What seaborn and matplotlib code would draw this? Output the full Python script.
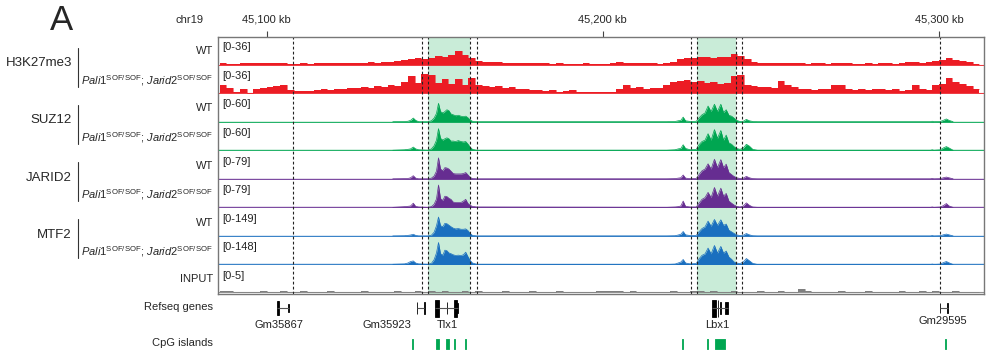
import numpy as np
import pandas as pd
import matplotlib
matplotlib.use("Agg")
import matplotlib.pyplot as plt
import seaborn as sns

sns.set_style("white")
plt.rcParams["font.family"] = ["Liberation Sans", "DejaVu Sans"]
plt.rcParams["mathtext.fontset"] = "custom"
plt.rcParams["mathtext.rm"] = "Liberation Sans"
plt.rcParams["mathtext.it"] = "Liberation Sans:italic"

# ---- genomic window (kb on chr19) ----
x_start, x_end = 45085.5, 45313.4
tick_kb = [45100, 45200, 45300]
tick_labels = ["45,100 kb", "45,200 kb", "45,300 kb"]

# 2 kb bins for the histone mark and input coverage
bin_left = np.arange(45086, 45312, 2)

h3_wt = [1.5, 1.0, 1.2, 2.0, 1.5, 1.8, 2.2, 1.5, 2.0, 2.5,
         1.2, 1.0, 1.5, 1.2, 1.8, 1.5, 2.0, 1.5, 1.8, 2.2,
         2.0, 2.5, 2.8, 2.5, 3.0, 3.5, 4.5, 6.0, 7.5, 8.0,
         7.0, 9.0, 11.0, 10.5, 12.0, 18.0, 12.0, 9.0, 5.0, 4.0,
         3.0, 3.0, 2.5, 2.5, 2.0, 2.0, 1.8, 1.5, 1.5, 1.2,
         1.5, 1.2, 1.0, 1.2, 1.5, 1.0, 1.2, 1.0, 1.5, 4.0,
         2.5, 1.5, 2.0, 1.5, 1.5, 1.2, 1.5, 3.0, 7.0, 8.5,
         8.0, 9.5, 10.0, 9.0, 10.0, 9.5, 14.0, 11.0, 7.0, 4.0,
         2.5, 2.0, 1.8, 2.0, 1.5, 1.5, 1.8, 1.2, 1.5, 1.5,
         1.2, 1.5, 1.8, 1.5, 1.2, 1.0, 1.5, 1.2, 1.5, 1.8,
         1.2, 2.0, 4.0, 3.0, 1.5, 3.5, 5.0, 6.0, 8.0, 6.5,
         5.0, 3.0, 1.0]
h3_mut = [10, 7, 2, 5, 0.5, 6, 7, 8, 9, 11,
          4, 3, 2.5, 3, 3.5, 5, 4.5, 6, 5.5, 7,
          6.5, 8, 7, 9, 8, 10, 9, 14, 22, 13,
          25, 24, 13, 19, 12, 18, 11, 20, 11, 9,
          8, 9, 7, 8, 6, 5, 4, 4.5, 3, 3.5,
          1.5, 3, 3.5, 2, 1, 2, 1.5, 1, 1.5, 6,
          11, 7, 7.5, 6, 7, 6.5, 10, 15, 16, 17,
          15, 16, 13, 14, 12, 13, 22, 24, 10, 9,
          8, 8.5, 7, 16, 10, 8, 5, 6, 4, 6,
          5, 10, 11, 5, 4, 5, 4, 6, 5, 4,
          5, 3, 4, 11, 6, 4, 11, 12, 20, 14,
          12, 9, 6]
input_cov = [0.2, 0.25, 0.1, 0.15, 0.1, 0.15, 0.2, 0.15, 0.1, 0.2, 0.15,
             0.15, 0.2, 0.15, 0.1, 0.15, 0.2, 0.1, 0.15, 0.1, 0.15, 0.2,
             0.15, 0.1, 0.15, 0.15, 0.2, 0.15, 0.1, 0.2, 0.15, 0.2, 0.15,
             0.2, 0.15, 0.15, 0.2, 0.15, 0.25, 0.15, 0.1, 0.15, 0.2, 0.15,
             0.1, 0.15, 0.2, 0.15, 0.15, 0.1, 0.2, 0.15, 0.15, 0.1, 0.15,
             0.15, 0.2, 0.25, 0.2, 0.2, 0.15, 0.2, 0.15, 0.1, 0.15, 0.15,
             0.15, 0.2, 0.15, 0.15, 0.2, 0.25, 0.15, 0.2, 0.15, 0.15, 0.2,
             0.15, 0.1, 0.15, 0.2, 0.15, 0.15, 0.2, 0.15, 0.15, 0.6, 0.2,
             0.15, 0.1, 0.15, 0.15, 0.2, 0.15, 0.1, 0.15, 0.2, 0.15, 0.15,
             0.1, 0.15, 0.2, 0.15, 0.15, 0.2, 0.15, 0.25, 0.15, 0.15, 0.2,
             0.15, 0.1, 0.15]

# PRC2 subunit peaks: read at these positions (kb), flat zero elsewhere
tlx_kb = [45137.5, 45141.0, 45142.0, 45142.8, 45143.6, 45144.3, 45145.2,
          45148.0, 45149.0, 45149.8, 45150.5, 45151.1, 45151.7, 45152.4,
          45153.0, 45153.6, 45154.2, 45154.8, 45155.5, 45156.2, 45157.0,
          45157.8, 45158.5, 45159.2, 45159.8, 45160.5, 45161.2, 45162.5]
lbx_kb = [45219.0, 45221.5, 45222.4, 45223.2, 45223.9, 45224.6, 45226.0,
          45227.8, 45228.6, 45229.5, 45230.4, 45231.3, 45232.2, 45233.2,
          45234.1, 45235.1, 45235.9, 45236.7, 45237.5, 45238.3, 45239.0,
          45239.8, 45240.8, 45241.8, 45242.7, 45243.6, 45244.6, 45246.0]
gm_kb = [45297.5, 45298.0, 45298.5, 45300.4, 45301.3, 45302.2, 45303.0, 45304.2]

suz12_wt = ([0, 0.5, 1, 3, 8, 3, 0, 0, 2, 8, 18, 40, 22, 19,
             22, 26, 24, 17, 15, 13, 14, 12, 11, 12, 9, 4, 1, 0],
            [0, 0.5, 2, 3, 10, 2, 0.5, 1, 8, 15, 19, 34, 22, 38,
             22, 38, 20, 26, 14, 12, 8, 3, 0.5, 1, 5, 2, 0.5, 0],
            [0, 1, 0, 0.5, 3, 6, 3, 0])
suz12_mut = ([0, 1, 2, 3, 7, 3, 1, 0, 3, 10, 22, 47, 26, 22,
              25, 27, 25, 20, 20, 19, 21, 19, 18, 19, 14, 7, 2, 0],
             [0, 1, 3, 4, 12, 4, 1, 2, 12, 19, 22, 36, 22, 45,
              26, 43, 22, 33, 16, 13, 8, 4, 2, 5, 13, 9, 2, 0],
             [0, 1, 0, 1, 5, 8, 5, 0])
jarid2_wt = ([0, 0.5, 1, 3, 9, 2, 0, 0, 2, 8, 22, 60, 28, 23,
              32, 31, 28, 22, 15, 14, 14, 14, 15, 18, 12, 4, 1, 0],
             [0, 0.5, 2, 3, 11, 2, 0.5, 1, 12, 23, 28, 43, 28, 56,
              32, 55, 32, 42, 18, 12, 7, 3, 1, 2, 7, 3, 0.5, 0],
             [0, 1, 0, 0.5, 3, 5, 3, 0])
jarid2_mut = ([0, 2, 3, 4, 12, 3, 1, 0, 2, 9, 24, 64, 25, 20,
               32, 31, 26, 23, 15, 14, 14, 14, 18, 23, 12, 6, 3, 1],
              [0, 1, 2, 4, 18, 3, 1, 1, 12, 23, 28, 43, 28, 57,
               32, 55, 32, 40, 18, 12, 7, 3, 1, 4, 13, 6, 1, 0],
              [0, 1, 0, 1, 5, 11, 4, 0])
mtf2_wt = ([0, 1, 3, 5, 9, 3, 0, 0, 4, 20, 55, 102, 55, 50,
            68, 66, 58, 50, 42, 38, 40, 36, 36, 38, 30, 14, 3, 0],
           [0, 1, 5, 9, 24, 6, 2, 3, 22, 40, 49, 80, 52, 89,
            57, 87, 57, 64, 31, 22, 14, 6, 2, 4, 13, 6, 1, 0],
           [0, 2, 0, 1, 6, 10, 6, 0])
mtf2_mut = ([1, 3, 8, 16, 19, 8, 3, 1, 6, 26, 62, 118, 58, 50,
             77, 74, 62, 58, 52, 48, 50, 48, 52, 66, 44, 22, 8, 1],
            [0, 2, 8, 13, 27, 8, 3, 5, 30, 49, 57, 88, 57, 102,
             61, 97, 61, 72, 40, 28, 14, 8, 5, 14, 32, 20, 6, 0],
            [0, 2, 0, 2, 10, 16, 9, 0])

# highlighted regions and guide lines
shade_start = [45147.9, 45228.1]
shade_end = [45160.5, 45239.7]
dashed_kb = [45107.8, 45146.1, 45147.9, 45160.5, 45162.6,
             45226.1, 45228.1, 45239.7, 45241.4, 45300.4]

# RefSeq genes
gene_names = ["Gm35867", "Gm35923", "Tlx1", "Lbx1", "Gm29595"]
gene_start = [45103.0, 45144.6, 45150.1, 45232.6, 45300.2]
gene_end = [45106.5, 45146.9, 45157.0, 45237.2, 45302.6]
gene_label_kb = [45103.6, 45135.7, 45153.6, 45234.0, 45301.1]
exon_start = [45103.0, 45103.45, 45106.4, 45144.6, 45146.7, 45150.1, 45153.5,
              45155.6, 45156.6, 45232.6, 45234.2, 45235.0, 45236.3, 45300.2, 45302.4]
exon_end = [45103.25, 45103.7, 45106.6, 45144.8, 45146.95, 45151.3, 45153.7,
            45156.6, 45157.0, 45233.8, 45234.4, 45235.2, 45237.2, 45300.4, 45302.6]
exon_half = [7, 7, 4, 6, 6, 8.5, 6, 8.5, 5, 8.5, 8.5, 6, 6, 5, 5]

# CpG islands
cpg_start = [45143.3, 45150.5, 45153.2, 45155.8, 45158.9,
             45223.6, 45230.9, 45233.4, 45301.7]
cpg_end = [45143.6, 45151.4, 45154.1, 45156.0, 45159.2,
           45223.9, 45231.2, 45236.3, 45302.0]

red, green, purple, blue, grey = "#ec1c24", "#00a651", "#662d91", "#1a6fbf", "#7f7f7f"

tracks = [
    ("[0-36]", h3_wt, red, 36),
    ("[0-36]", h3_mut, red, 36),
    ("[0-60]", suz12_wt, green, 60),
    ("[0-60]", suz12_mut, green, 60),
    ("[0-79]", jarid2_wt, purple, 79),
    ("[0-79]", jarid2_mut, purple, 79),
    ("[0-149]", mtf2_wt, blue, 149),
    ("[0-148]", mtf2_mut, blue, 148),
    ("[0-5]", input_cov, grey, 5),
]

W, H = 999, 355
fig = plt.figure(figsize=(W / 100, H / 100), dpi=100)


def rect(left, top, right, bottom):
    return [left / W, 1 - bottom / H, (right - left) / W, (bottom - top) / H]


box_l, box_t, box_r, box_b = 218, 37, 984, 294
row_h = (box_b - box_t) / len(tracks)

# shaded regions behind the tracks
bg = fig.add_axes(rect(box_l, box_t, box_r, box_b))
bg.set_xlim(x_start, x_end)
for a, b in zip(shade_start, shade_end):
    bg.axvspan(a, b, color="#c9ecd8", lw=0)
bg.axis("off")

edges = np.append(bin_left, bin_left[-1] + 2)
peak_kb = tlx_kb + lbx_kb + gm_kb

for i, (rng, vals, col, vmax) in enumerate(tracks):
    top = box_t + i * row_h
    ax = fig.add_axes(rect(box_l, top, box_r, top + row_h))
    ax.patch.set_alpha(0)
    if isinstance(vals, tuple):
        y = vals[0] + vals[1] + vals[2]
        ax.fill_between(peak_kb, y, color=col, lw=0)
        sns.lineplot(x=peak_kb, y=y, color=col, lw=0.5, ax=ax)
        ax.axhline(0, color=col, lw=1.0, alpha=0.85)
    else:
        cov = pd.DataFrame({"kb": edges, "cov": list(vals) + [vals[-1]]})
        ax.fill_between(cov["kb"], cov["cov"], step="post", color=col, lw=0)
        sns.lineplot(data=cov, x="kb", y="cov", drawstyle="steps-post",
                     color=col, lw=0.4, ax=ax)
        ax.axhline(0, color=col, lw=0.8, alpha=0.85)
    ax.set_xlim(x_start, x_end)
    if vmax == 5:
        ax.set_ylim(-0.06 * vmax, vmax)
    else:
        ax.set_ylim(-0.035 * vmax, vmax)
    ax.text(0.006, 0.64, rng, transform=ax.transAxes, fontsize=8,
            va="center", ha="left", color="#222222")
    ax.axis("off")

# frame, dashed guides, coordinate ticks
ov = fig.add_axes(rect(box_l, box_t, box_r, box_b))
ov.patch.set_alpha(0)
ov.set_xlim(x_start, x_end)
ov.set_ylim(0, 1)
for x in dashed_kb:
    ov.axvline(x, color="#222222", lw=0.8, ls=(0, (2.5, 2)))
for s in ov.spines.values():
    s.set_color("#777777")
    s.set_linewidth(1.0)
ov.xaxis.tick_top()
ov.set_xticks(tick_kb)
ov.set_xticklabels(tick_labels, fontsize=8)
ov.tick_params(axis="x", length=4, width=0.8, pad=5, color="#444444", bottom=False)
ov.set_yticks([])

# RefSeq gene track
gax = fig.add_axes(rect(box_l, 296, box_r, 334))
gax.set_xlim(x_start, x_end)
gax.set_ylim(-26, 12)
gax.hlines([0] * len(gene_start), gene_start, gene_end, color="#555555", lw=0.8)
ex_w = np.array(exon_end) - np.array(exon_start)
ex_c = np.array(exon_start) + ex_w / 2
ex_h = np.array(exon_half)
gax.bar(ex_c, 2 * ex_h, bottom=-ex_h, width=ex_w, color="black",
        edgecolor="black", linewidth=0.6)
for name, xk in zip(gene_names, gene_label_kb):
    yl = -13 if name == "Gm29595" else -17
    gax.text(xk, yl, name, ha="center", va="center", fontsize=8, color="#222222")
gax.axis("off")

# CpG islands
cax = fig.add_axes(rect(box_l, 336, box_r, 352))
cax.set_xlim(x_start, x_end)
cax.set_ylim(0, 1)
cax.broken_barh([(s, e - s) for s, e in zip(cpg_start, cpg_end)], (0.16, 0.68),
                facecolors=green, edgecolors=green, linewidth=0.6)
cax.axis("off")

# left-hand labels
def ftext(px, py, s, **kw):
    fig.text(px / W, 1 - py / H, s, va="center", **kw)


pali = r"$\mathit{Pali1}^{\mathrm{SOF/SOF}}$; $\mathit{Jarid2}^{\mathrm{SOF/SOF}}$"
ftext(61, 20, "A", fontsize=25, ha="center")
ftext(189, 20, "chr19", fontsize=8, ha="center")

groups = ["H3K27me3", "SUZ12", "JARID2", "MTF2"]
for j, g in enumerate(groups):
    c0 = box_t + (2 * j + 0.5) * row_h
    c1 = box_t + (2 * j + 1.5) * row_h
    ftext(213, c0, "WT", fontsize=8, ha="right")
    ftext(213, c1 + 0.3, pali, fontsize=8, ha="right")
    ftext(72, c1 - 16.5, g, fontsize=9.5, ha="right")
    fig.add_artist(plt.Line2D([78 / W, 78 / W], [1 - (c0 - 3.5) / H, 1 - (c1 + 7) / H],
                              color="#333333", lw=0.8))

ftext(213, box_t + 8.5 * row_h - 1, "INPUT", fontsize=8, ha="right")
ftext(213, 306.5, "Refseq genes", fontsize=8, ha="right")
ftext(213, 343.5, "CpG islands", fontsize=8, ha="right")

fig.savefig("out.png", dpi=100)
